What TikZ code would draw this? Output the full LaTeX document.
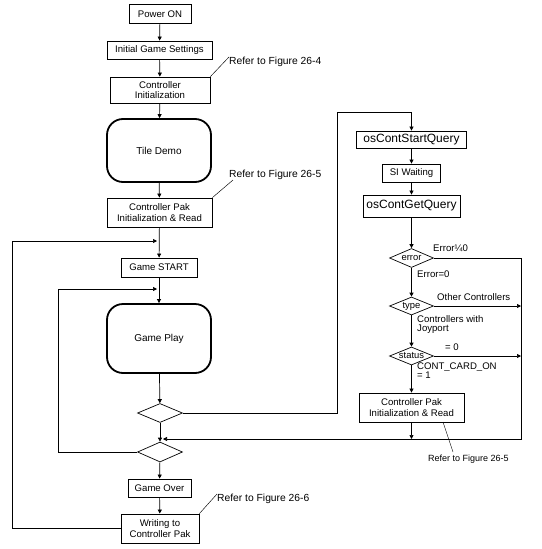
\documentclass[tikz,border=0pt]{standalone}
\usepackage{fontspec}
\setmainfont{Liberation Sans}
\usetikzlibrary{arrows.meta,shapes.geometric}
\begin{document}
\begin{tikzpicture}[x=1pt,y=-1pt,
  box/.style={draw,line width=0.8pt,inner sep=0pt,align=center,font=\fontsize{9.6}{10.5}\selectfont},
  codebox/.style={box,font=\fontsize{12}{13}\selectfont},
  rbox/.style={draw,line width=1.8pt,rounded corners=16pt,inner sep=0pt,align=center,font=\fontsize{10}{12}\selectfont},
  dia/.style={draw,diamond,aspect=2.3,inner sep=0pt,line width=0.7pt,minimum width=44pt,minimum height=19pt,font=\fontsize{9.4}{10}\selectfont},
  lab/.style={inner sep=0pt,align=left,anchor=west,font=\fontsize{9.6}{9}\selectfont},
  ref/.style={inner sep=0pt,anchor=west,font=\fontsize{10.3}{12}\selectfont},
  arr/.style={line width=0.7pt,-{Triangle[length=4pt,width=4pt]}},
  ln/.style={line width=0.7pt},
  lead/.style={line width=0.45pt}]
\useasboundingbox (0,0) rectangle (541,549);
% left column
\node[box,minimum width=62pt,minimum height=19pt] (power) at (160,14) {Power ON};
\node[box,minimum width=105pt,minimum height=18pt] (init) at (159.5,50) {Initial Game Settings};
\node[box,minimum width=100pt,minimum height=26pt] (cinit) at (160,90) {Controller\\Initialization};
\node[rbox,minimum width=104pt,minimum height=63pt] (tile) at (159,150.5) {Tile Demo};
\node[box,minimum width=105pt,minimum height=29pt] (cpak) at (159.5,212.5) {Controller Pak\\Initialization \& Read};
\node[box,minimum width=76pt,minimum height=19pt] (gstart) at (159,267.5) {Game START};
\node[rbox,minimum width=104pt,minimum height=69pt] (gplay) at (159,338.5) {Game Play};
\node[dia,minimum width=45pt,minimum height=19pt] (d1) at (160,413) {};
\node[dia,minimum width=45pt,minimum height=20pt] (d2) at (160,452) {};
\node[box,minimum width=63pt,minimum height=18pt] (gover) at (159.5,488) {Game Over};
\node[box,minimum width=78pt,minimum height=29pt] (write) at (160,528.5) {Writing to\\Controller Pak};
% right column
\node[codebox,minimum width=110pt,minimum height=17pt] (sq) at (411.5,139.5) {osContStartQuery};
\node[box,minimum width=58pt,minimum height=18pt] (si) at (411.5,173) {SI Waiting};
\node[codebox,minimum width=97pt,minimum height=22pt] (gq) at (411.5,206) {osContGetQuery};
\node[dia] (err) at (411.5,258) {error};
\node[dia,minimum height=18pt] (type) at (411.5,306) {type};
\node[dia,minimum height=18pt] (status) at (411.5,356) {status};
\node[box,minimum width=105pt,minimum height=29pt] (cpak2) at (411.5,407.5) {Controller Pak\\Initialization \& Read};
% labels
\node[lab] (lerr) at (433,248) {Error¼0};
\node[lab] (lerr0) at (417,274) {Error=0};
\node[lab] (lother) at (437,297) {Other Controllers};
\node[lab] (ljoy) at (417,325) {Controllers with\\Joyport};
\node[lab] (lzero) at (445,347) {= 0};
\node[lab] (lcard) at (417,370.5) {CONT\_CARD\_ON\\= 1};
\node[ref] (r4) at (229,62) {Refer to Figure 26-4};
\node[ref] (r5) at (229,175) {Refer to Figure 26-5};
\node[ref] (r6) at (217,499) {Refer to Figure 26-6};
\node[ref,font=\fontsize{9}{10}\selectfont] (r5b) at (428,459) {Refer to Figure 26-5};
% coordinates
\coordinate (cl) at (12,241);
\coordinate (cla) at (157,241);
\coordinate (lp) at (58,289);
\coordinate (lpa) at (157,289);
\coordinate (up) at (337,112);
\coordinate (jr) at (521,439);
\coordinate (jl) at (163,439);
\coordinate (l5a) at (443,422);
\coordinate (l5b) at (453,452);
% main flow
\draw[arr] (power) -- (init);
\draw[arr] (init) -- (cinit);
\draw[arr] (cinit) -- (tile);
\draw[arr] (tile) -- (cpak);
\draw[arr] (cpak) -- (gstart);
\draw[arr] (gstart) -- (gplay);
\draw[arr] (gplay) -- (d1);
\draw[arr] (d1) -- (d2);
\draw[arr] (d2) -- (gover);
\draw[arr] (gover) -- (write);
\draw[arr] (write.west) -| (cl) -- (cla);
\draw[arr] (d2.west) -| (lp) -- (lpa);
\draw[arr] (d1.east) -| (up) -| (sq.north);
\draw[arr] (sq) -- (si);
\draw[arr] (si) -- (gq);
\draw[arr] (gq) -- (err);
\draw[arr] (err) -- (type);
\draw[arr] (type) -- (status);
\draw[arr] (status) -- (cpak2);
\draw[arr] (cpak2.south) -- (cpak2.south |- jr);
\draw[arr] (err.east) -| (jr) -- (jl);
\draw[arr] (type.east) -- (type.east -| jr);
\draw[arr] (status.east) -- (status.east -| jr);
% leaders
\draw[lead] (cinit.north east) -- (r4.north west);
\draw[lead] (cpak.north east) -- ([xshift=4pt]r5.south west);
\draw[lead] (write.north east) -- (r6.north west);
\draw[lead] (l5a) -- (l5b);
\end{tikzpicture}
\end{document}
